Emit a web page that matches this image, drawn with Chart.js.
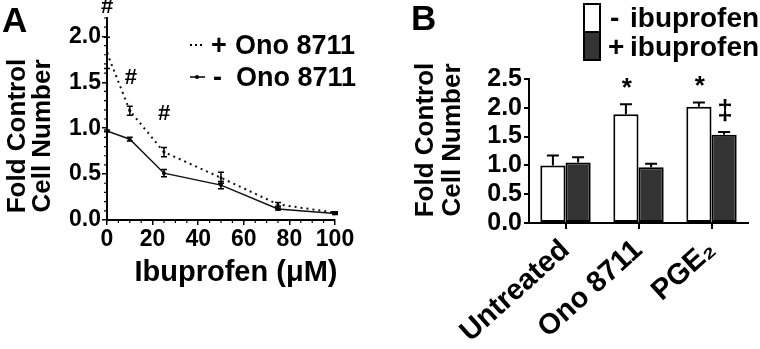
<!DOCTYPE html>
<html lang="en">
<head>
<meta charset="UTF-8">
<title>Ibuprofen and Ono 8711 - fold control cell number</title>
<script src="https://cdn.jsdelivr.net/npm/chart.js"></script>
<style>
  body { margin: 0; background: #fff; }
  .wrap { position: relative; width: 760px; height: 349px; }
  #panelA { position: absolute; left: 0; top: 0; }
  #panelB { position: absolute; left: 380px; top: 0; }
</style>
</head>
<body>
<div class="wrap">
  <canvas id="panelA" width="380" height="349"></canvas>
  <canvas id="panelB" width="380" height="349"></canvas>
</div>
<script>
// --- panel A: ibuprofen dose curve
const doses = [0, 10, 25, 50, 75, 100];
const plusOno = [1.82, 1.19, 0.74, 0.46, 0.17, 0.08];
const plusOnoErr = [0.17, 0.05, 0.05, 0.06, 0.02, 0.01];
const minusOno = [0.97, 0.88, 0.51, 0.38, 0.12, 0.07];
const minusOnoErr = [0.01, 0.02, 0.04, 0.04, 0.01, 0.01];
const hashX = [0, 10.5, 25];
const hashY = [2.32, 1.55, 1.16];

// --- panel B: treatments +/- ibuprofen
const treatments = ['Untreated', 'Ono 8711', 'PGE₂'];
const noIbu = [1.0, 1.89, 2.02];
const noIbuErr = [0.17, 0.17, 0.07];
const withIbu = [1.05, 0.97, 1.53];
const withIbuErr = [0.09, 0.06, 0.05];
const marksNoIbu = ['', '*', '*'];
const marksWithIbu = ['', '', '‡'];

const FONT = '"Liberation Sans", Arial, sans-serif';
Chart.defaults.font.family = FONT;
Chart.defaults.color = '#000';

function bold(size) { return 'bold ' + size + 'px ' + FONT; }

function vText(ctx, txt, x, y, size) {
  ctx.save();
  ctx.translate(x, y);
  ctx.rotate(-Math.PI / 2);
  ctx.font = bold(size);
  ctx.textAlign = 'center';
  ctx.textBaseline = 'middle';
  ctx.fillText(txt, 0, 0);
  ctx.restore();
}

const decorA = {
  id: 'decorA',
  afterDatasetsDraw(chart) {
    const ctx = chart.ctx;
    const xs = chart.scales.x, ys = chart.scales.y;
    ctx.save();
    ctx.strokeStyle = '#000';
    ctx.fillStyle = '#000';
    ctx.lineWidth = 1.5;
    // error bars
    [[plusOno, plusOnoErr], [minusOno, minusOnoErr]].forEach(([vals, errs]) => {
      doses.forEach((d, i) => {
        const px = xs.getPixelForValue(d);
        const lo = ys.getPixelForValue(vals[i] - errs[i]);
        const hi = ys.getPixelForValue(vals[i] + errs[i]);
        ctx.beginPath();
        ctx.moveTo(px, lo); ctx.lineTo(px, hi);
        ctx.moveTo(px - 3, lo); ctx.lineTo(px + 3, lo);
        ctx.moveTo(px - 3, hi); ctx.lineTo(px + 3, hi);
        ctx.stroke();
      });
    });
    // minor ticks
    ctx.lineWidth = 1.2;
    ctx.beginPath();
    for (let v = 0.1; v < 2.21; v += 0.1) {
      if (Math.abs(v * 2 - Math.round(v * 2)) < 1e-6) continue;
      const py = ys.getPixelForValue(v);
      ctx.moveTo(xs.left - 3, py); ctx.lineTo(xs.left, py);
    }
    for (let v = 5; v < 100; v += 5) {
      if (v % 20 === 0) continue;
      const px = xs.getPixelForValue(v);
      ctx.moveTo(px, ys.bottom); ctx.lineTo(px, ys.bottom + 3);
    }
    ctx.stroke();
    // significance marks
    ctx.font = bold(22);
    ctx.textAlign = 'center';
    ctx.textBaseline = 'middle';
    hashX.forEach((x, i) => {
      ctx.fillText('#', xs.getPixelForValue(x), ys.getPixelForValue(hashY[i]));
    });
    // legend
    ctx.lineWidth = 2;
    ctx.setLineDash([2, 3]);
    ctx.beginPath(); ctx.moveTo(190, 45); ctx.lineTo(204, 45); ctx.stroke();
    ctx.setLineDash([]);
    ctx.lineWidth = 1.5;
    ctx.beginPath(); ctx.moveTo(190, 77); ctx.lineTo(205, 77); ctx.stroke();
    ctx.beginPath(); ctx.arc(197, 77, 2, 0, Math.PI * 2); ctx.fill();
    ctx.font = bold(27);
    ctx.textAlign = 'left';
    ctx.textBaseline = 'alphabetic';
    ctx.fillText('+', 211, 54);
    ctx.fillText('Ono 8711', 235, 54);
    ctx.fillText('-', 213, 86);
    ctx.fillText('Ono 8711', 236, 86);
    // panel letter + titles
    ctx.font = bold(35);
    ctx.fillText('A', 2, 32);
    vText(ctx, 'Fold Control', 18, 136, 26);
    vText(ctx, 'Cell Number', 43, 136, 26);
    ctx.font = bold(29);
    ctx.textAlign = 'center';
    ctx.fillText('Ibuprofen (μM)', 236, 281);
    ctx.restore();
  }
};

const decorB = {
  id: 'decorB',
  afterDatasetsDraw(chart) {
    const ctx = chart.ctx;
    const ys = chart.scales.y;
    ctx.save();
    ctx.strokeStyle = '#000';
    ctx.fillStyle = '#000';
    ctx.lineWidth = 2;
    [[0, noIbu, noIbuErr, marksNoIbu], [1, withIbu, withIbuErr, marksWithIbu]].forEach(([di, vals, errs, marks]) => {
      const meta = chart.getDatasetMeta(di);
      meta.data.forEach((bar, i) => {
        const top = ys.getPixelForValue(vals[i]);
        const hi = ys.getPixelForValue(vals[i] + errs[i]);
        ctx.beginPath();
        ctx.moveTo(bar.x, top); ctx.lineTo(bar.x, hi);
        ctx.moveTo(bar.x - 6, hi); ctx.lineTo(bar.x + 6, hi);
        ctx.stroke();
        if (marks[i]) {
          ctx.font = bold(marks[i] === '*' ? 26 : 28);
          ctx.textAlign = 'center';
          ctx.textBaseline = 'middle';
          ctx.fillText(marks[i], bar.x + 1, hi - (marks[i] === '*' ? 16 : 21));
        }
      });
    });
    // legend
    ctx.lineWidth = 2;
    ctx.fillStyle = '#fff';
    ctx.fillRect(204, 4, 16, 28);
    ctx.strokeRect(204, 4, 16, 28);
    ctx.fillStyle = '#333';
    ctx.fillRect(204, 32, 16, 28);
    ctx.strokeRect(204, 32, 16, 28);
    ctx.fillStyle = '#000';
    ctx.font = bold(28);
    ctx.textAlign = 'left';
    ctx.textBaseline = 'alphabetic';
    ctx.fillText('-', 230, 27);
    ctx.fillText('ibuprofen', 250, 27);
    ctx.fillText('+', 228, 56);
    ctx.fillText('ibuprofen', 250, 56);
    // panel letter + titles
    ctx.font = bold(35);
    ctx.fillText('B', 31, 30);
    vText(ctx, 'Fold Control', 46, 140, 26);
    vText(ctx, 'Cell Number', 73, 140, 26);
    ctx.restore();
  }
};

new Chart(document.getElementById('panelA'), {
  type: 'line',
  data: {
    datasets: [
      {
        label: '+ Ono 8711',
        data: doses.map((d, i) => ({ x: d, y: plusOno[i] })),
        borderColor: '#111',
        borderWidth: 2,
        borderDash: [2, 4],
        pointRadius: 1.5,
        pointBackgroundColor: '#111',
        pointBorderWidth: 0,
        tension: 0
      },
      {
        label: '- Ono 8711',
        data: doses.map((d, i) => ({ x: d, y: minusOno[i] })),
        borderColor: '#111',
        borderWidth: 1.5,
        pointRadius: 2,
        pointBackgroundColor: '#111',
        pointBorderWidth: 0,
        tension: 0
      }
    ]
  },
  options: {
    responsive: false,
    animation: false,
    layout: { padding: { left: 0, right: 45, top: 18, bottom: 0 } },
    plugins: { legend: { display: false }, tooltip: { enabled: false } },
    scales: {
      x: {
        type: 'linear',
        min: 0, max: 100,
        afterFit(scale) { scale.height = 129; },
        ticks: { stepSize: 20, padding: 1, autoSkip: false, font: { size: 23, weight: 'bold' } },
        grid: { drawOnChartArea: false, tickLength: 5, color: '#000', lineWidth: 1.5 },
        border: { color: '#000', width: 2 }
      },
      y: {
        min: 0, max: 2.2,
        afterFit(scale) { scale.width = 107; },
        ticks: { stepSize: 0.5, includeBounds: false, autoSkip: false, padding: 1, font: { size: 23, weight: 'bold' }, callback: v => v.toFixed(1) },
        grid: { drawOnChartArea: false, tickLength: 5, color: '#000', lineWidth: 1.5 },
        border: { color: '#000', width: 2 }
      }
    }
  },
  plugins: [decorA]
});

new Chart(document.getElementById('panelB'), {
  type: 'bar',
  data: {
    labels: treatments,
    datasets: [
      {
        label: '- ibuprofen',
        data: noIbu,
        backgroundColor: '#fff',
        borderColor: '#000',
        borderWidth: 2,
        borderSkipped: false,
        categoryPercentage: 0.69,
        barPercentage: 1.0
      },
      {
        label: '+ ibuprofen',
        data: withIbu,
        backgroundColor: '#333',
        borderColor: '#000',
        borderWidth: 2,
        borderSkipped: false,
        categoryPercentage: 0.69,
        barPercentage: 1.0
      }
    ]
  },
  options: {
    responsive: false,
    animation: false,
    layout: { padding: { left: 0, right: 12, top: 79, bottom: 0 } },
    plugins: { legend: { display: false }, tooltip: { enabled: false } },
    scales: {
      x: {
        afterFit(scale) { scale.height = 126; },
        ticks: { minRotation: 42, maxRotation: 42, autoSkip: false, padding: 4, font: { size: 29, weight: 'bold' } },
        grid: { drawOnChartArea: false, offset: false, tickLength: 6, color: '#000', lineWidth: 2 },
        border: { color: '#000', width: 2 }
      },
      y: {
        min: 0, max: 2.5,
        afterFit(scale) { scale.width = 149; },
        ticks: { stepSize: 0.5, autoSkip: false, padding: 2, font: { size: 25, weight: 'bold' }, callback: v => v.toFixed(1) },
        grid: { drawOnChartArea: false, tickLength: 5, color: '#000', lineWidth: 2 },
        border: { color: '#000', width: 2 }
      }
    }
  },
  plugins: [decorB]
});
</script>
</body>
</html>
